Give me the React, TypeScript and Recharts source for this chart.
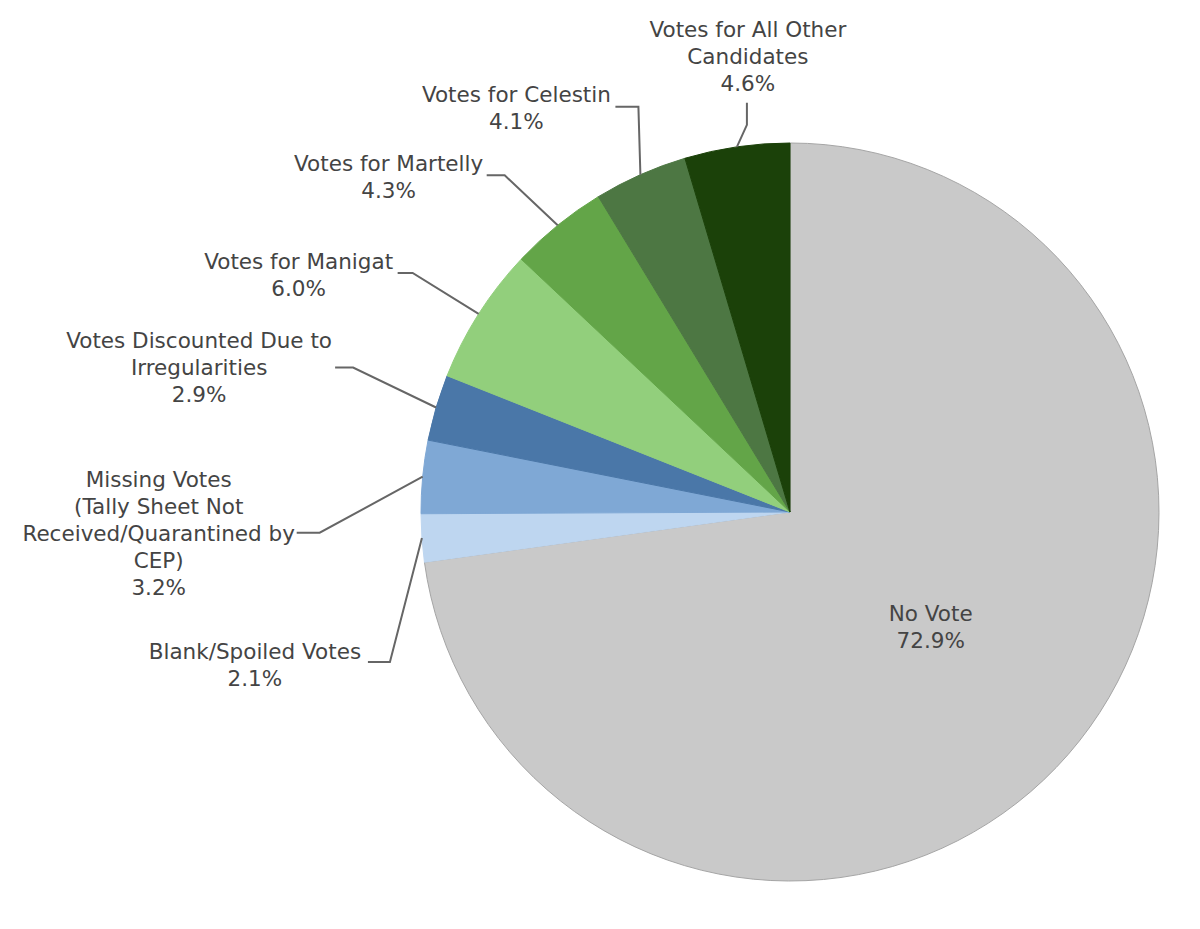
import { PieChart, Pie, Cell } from "recharts"

const categories = [
  "No Vote",
  "Blank/Spoiled Votes",
  "Missing Votes\n(Tally Sheet Not\nReceived/Quarantined by\nCEP)",
  "Votes Discounted Due to\nIrregularities",
  "Votes for Manigat",
  "Votes for Martelly",
  "Votes for Celestin",
  "Votes for All Other\nCandidates",
]
const shares = [72.9, 2.1, 3.2, 2.9, 6.0, 4.3, 4.1, 4.6]
const colors = [
  "#C9C9C9",
  "#BED6F0",
  "#7FA8D5",
  "#4A77A8",
  "#92CF7C",
  "#63A548",
  "#4D7743",
  "#1B4109",
]

const data = categories.map((name, i) => ({ name, value: shares[i] }))

// leader line: slice edge -> elbow -> end of leg, text block placed off the leg end
const labelLayout: {
  inside?: boolean
  r?: number
  elbow?: [number, number]
  leg?: [number, number]
  tx: number
  ty: number
}[] = [
  { inside: true, r: 0.47, tx: 10, ty: -13 },
  { elbow: [-32, 124], leg: [-22, 0], tx: -113, ty: -11 },
  { elbow: [-103, 56], leg: [-23, 0], tx: -138, ty: -53 },
  { elbow: [-83, -40], leg: [-18, 0], tx: -136, ty: -27 },
  { elbow: [-66, -41], leg: [-15, 0], tx: -99, ty: -11 },
  { elbow: [-53, -50], leg: [-18, 0], tx: -98, ty: -12 },
  { elbow: [-2, -68], leg: [-23, 0], tx: -99, ty: -12 },
  { elbow: [10, -22], leg: [0, -22], tx: 1, ty: -73 },
]

const RADIAN = Math.PI / 180
const LINE_H = 27

function renderLabel(props: any) {
  const { cx, cy, midAngle, outerRadius, index, name, value } = props
  const lay = labelLayout[index]
  const lines = [...String(name).split("\n"), `${Number(value).toFixed(1)}%`]
  const cos = Math.cos(-midAngle * RADIAN)
  const sin = Math.sin(-midAngle * RADIAN)

  let ax: number
  let ay: number
  let path: string | null = null
  if (lay.inside) {
    ax = cx + outerRadius * (lay.r ?? 0.5) * cos + lay.tx
    ay = cy + outerRadius * (lay.r ?? 0.5) * sin + lay.ty
  } else {
    const ex = cx + outerRadius * cos
    const ey = cy + outerRadius * sin
    const bx = ex + lay.elbow![0]
    const by = ey + lay.elbow![1]
    const lx = bx + lay.leg![0]
    const ly = by + lay.leg![1]
    path = `M${ex},${ey}L${bx},${by}L${lx},${ly}`
    ax = lx + lay.tx
    ay = ly + lay.ty
  }

  return (
    <g key={`lbl-${index}`}>
      {path && <path d={path} stroke="#666" strokeWidth={2} fill="none" />}
      {lines.map((t, k) => (
        <text
          key={k}
          x={ax}
          y={ay + k * LINE_H}
          dy="0.35em"
          textAnchor="middle"
          fill="#444"
          fontSize={21.5}
          fontFamily="'DejaVu Sans', Verdana, sans-serif"
        >
          {t}
        </text>
      ))}
    </g>
  )
}

export default function App() {
  return (
    <div style={{ position: "absolute", left: 0, top: 0, background: "#fff" }}>
      <PieChart
        width={1200}
        height={929}
        margin={{ top: 0, right: 0, bottom: 0, left: 0 }}
      >
        <Pie
          data={data}
          dataKey="value"
          nameKey="name"
          cx={790}
          cy={512}
          outerRadius={369}
          startAngle={90}
          endAngle={-270}
          label={renderLabel}
          labelLine={false}
          isAnimationActive={false}
        >
          {data.map((d, i) => (
            <Cell
              key={d.name}
              fill={colors[i]}
              stroke={i === 0 ? "#A5A5A5" : colors[i]}
              strokeWidth={1}
            />
          ))}
        </Pie>
      </PieChart>
    </div>
  )
}
